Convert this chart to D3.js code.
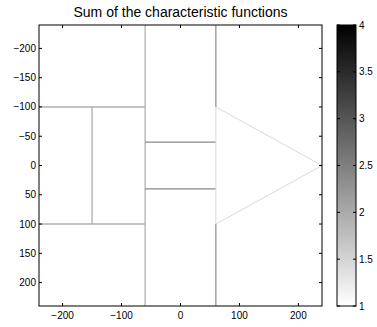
<!DOCTYPE html>
<html><head><meta charset="utf-8">
<script src="https://cdn.jsdelivr.net/npm/d3@7"></script>
<style>body{margin:0;background:#fff}svg{display:block;font-family:"Liberation Sans",Arial,sans-serif}</style>
</head><body><svg id="c" width="377" height="327"></svg>
<script>
const title = "Sum of the characteristic functions";
const xTicks = [-200, -100, 0, 100, 200];
const yTicks = [-200, -150, -100, -50, 0, 50, 100, 150, 200];
const cbTicks = [1, 1.5, 2, 2.5, 3, 3.5, 4];
const domainX = [-240, 240];
const domainY = [-240, 240];
const cbDomain = [1, 4];
// boundary segments: x1, y1, x2, y2, value of the summed function along the edge
const segX1 = [-240, -240, -150, -60, -60, -60, 60, 60, 60, 60, 240];
const segY1 = [-100, 100, -100, -240, -40, 40, -240, 100, -100, -100, 0];
const segX2 = [-60, -60, -150, -60, 60, 60, 60, 60, 60, 240, 60];
const segY2 = [-100, 100, 100, 240, -40, 40, -100, 240, 100, 0, 100];
const segV  = [1.95, 1.95, 1.9, 1.85, 2.4, 2.4, 2.5, 2.5, 1.5, 1.5, 1.5];

const svg = d3.select("#c");
const L = 39, R = 322, T = 25, B = 306;
const x = d3.scaleLinear().domain(domainX).range([L, R]);
const y = d3.scaleLinear().domain(domainY).range([T, B]);
const gray = d3.scaleLinear().domain(cbDomain).range(["#ffffff", "#000000"]);

svg.append("rect").attr("x", L).attr("y", T).attr("width", R - L).attr("height", B - T).attr("fill", "#fff");

const segs = segV.map((v, i) => ({x1: segX1[i], y1: segY1[i], x2: segX2[i], y2: segY2[i], v}));
svg.append("g").selectAll("line").data(segs).join("line")
  .attr("x1", d => x(d.x1)).attr("y1", d => y(d.y1))
  .attr("x2", d => x(d.x2)).attr("y2", d => y(d.y2))
  .attr("stroke", d => gray(d.v)).attr("stroke-width", d => d.v < 1.6 ? 0.9 : (d.v > 2.2 ? 1.1 : 1.4));

const fmt = d => (d < 0 ? "\u2212" : "") + Math.abs(d);
// axes
const ax = svg.append("g").attr("font-size", 10).attr("fill", "#000");
xTicks.forEach(t => {
  ax.append("line").attr("x1", x(t)).attr("x2", x(t)).attr("y1", B).attr("y2", B - 3).attr("stroke", "#000");
  ax.append("line").attr("x1", x(t)).attr("x2", x(t)).attr("y1", T).attr("y2", T + 3).attr("stroke", "#000");
  ax.append("text").attr("x", x(t)).attr("y", B + 13).attr("text-anchor", "middle").text(fmt(t));
});
yTicks.forEach(t => {
  ax.append("line").attr("x1", L).attr("x2", L + 3).attr("y1", y(t)).attr("y2", y(t)).attr("stroke", "#000");
  ax.append("line").attr("x1", R).attr("x2", R - 3).attr("y1", y(t)).attr("y2", y(t)).attr("stroke", "#000");
  ax.append("text").attr("x", L - 3).attr("y", y(t) + 3.5).attr("text-anchor", "end").text(fmt(t));
});
svg.append("rect").attr("x", L).attr("y", T).attr("width", R - L).attr("height", B - T)
  .attr("fill", "none").attr("stroke", "#000").attr("stroke-width", 1);

svg.append("text").attr("x", (L + R) / 2).attr("y", 17).attr("text-anchor", "middle")
  .attr("font-size", 14).text(title);

// colorbar
const CL = 337, CR = 356;
const cy = d3.scaleLinear().domain(cbDomain).range([B, T]);
const defs = svg.append("defs");
const grad = defs.append("linearGradient").attr("id", "g").attr("x1", 0).attr("y1", 1).attr("x2", 0).attr("y2", 0);
grad.append("stop").attr("offset", 0).attr("stop-color", gray(cbDomain[0]));
grad.append("stop").attr("offset", 1).attr("stop-color", gray(cbDomain[1]));
svg.append("rect").attr("x", CL).attr("y", T).attr("width", CR - CL).attr("height", B - T).attr("fill", "url(#g)");
cbTicks.forEach(t => {
  svg.append("line").attr("x1", CL).attr("x2", CL + 3).attr("y1", cy(t)).attr("y2", cy(t)).attr("stroke", "#000");
  svg.append("line").attr("x1", CR).attr("x2", CR - 3).attr("y1", cy(t)).attr("y2", cy(t)).attr("stroke", "#000");
  svg.append("text").attr("x", CR + 3).attr("y", cy(t) + 3.5).attr("font-size", 10).text(t);
});
svg.append("rect").attr("x", CL).attr("y", T).attr("width", CR - CL).attr("height", B - T)
  .attr("fill", "none").attr("stroke", "#000");
</script></body></html>
